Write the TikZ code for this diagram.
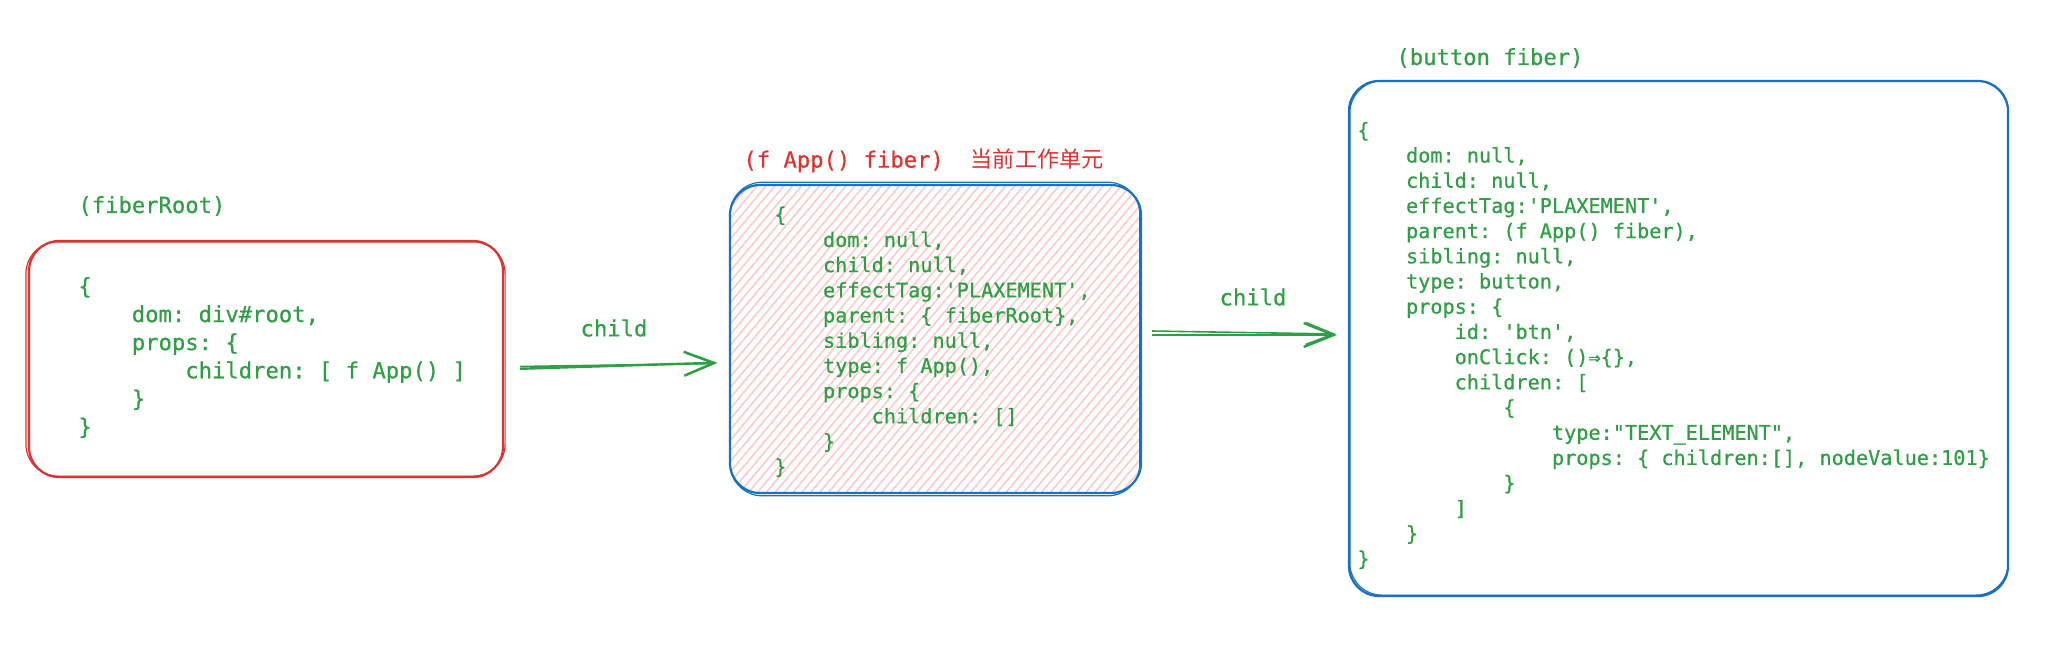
\documentclass[tikz,border=0pt]{standalone}
\usepackage{fontspec}
\setmonofont{DejaVu Sans Mono}[FakeBold=0.6]
\newfontfamily\cjk{Noto Sans CJK SC}
\usetikzlibrary{arrows.meta,patterns.meta}
\definecolor{codegreen}{HTML}{2F9E44}
\definecolor{sketchred}{HTML}{E03131}
\definecolor{sketchblue}{HTML}{1971C2}
\definecolor{hatchpink}{HTML}{FFC9C9}
\newcommand{\tb}{\phantom{0000}}
\tikzset{
  fiberbox/.style={draw, line width=1.1pt, rounded corners=15pt, inner sep=0pt},
  roughline/.style={line width=0.6pt, rounded corners=16pt},
  hatched/.style={pattern={Lines[angle=50,distance=3.4pt,line width=0.8pt]}, pattern color=hatchpink},
  bigcode/.style={text=codegreen, font=\ttfamily\fontsize{11.1}{14.05}\selectfont, align=left, anchor=north west, inner sep=0pt},
  smallcode/.style={bigcode, font=\ttfamily\fontsize{10.1}{12.6}\selectfont},
  title/.style={text=codegreen, font=\ttfamily\fontsize{11.1}{13}\selectfont, anchor=west, inner sep=0pt},
  link/.style={codegreen, line width=1.2pt, -{Straight Barb[length=15pt,width=12pt]}},
  linkrough/.style={codegreen, line width=0.8pt, -{Straight Barb[length=14pt,width=11pt]}}
}

\begin{document}
\begin{tikzpicture}[x=0.5pt, y=-0.5pt]
  \useasboundingbox (0,0) rectangle (2068,644);

  \node [fiberbox, draw=sketchred, minimum width=237pt, minimum height=118pt] (root) at (266, 359) {};
  \node [fiberbox, draw=sketchblue, hatched, minimum width=205.5pt, minimum height=154pt] (app) at (935.5, 339) {};
  \node [fiberbox, draw=sketchblue, minimum width=329.5pt, minimum height=257.5pt] (btn) at (1678.5, 338.5) {};

  \draw [sketchred, roughline] ([shift={(-2,2)}]root.north west) rectangle ([shift={(1,-2)}]root.south east);
  \draw [sketchblue, roughline] ([shift={(1,-2)}]app.north west) rectangle ([shift={(-2,2)}]app.south east);
  \draw [sketchblue, roughline] ([shift={(2,1)}]btn.north west) rectangle ([shift={(-1,-2)}]btn.south east);

  \node [title] (rootlabel) at (78, 206) {(fiberRoot)};
  \node [title, text=sketchred] (applabel) at (743, 160.5) {(f App() fiber)\ \ {\cjk 当前工作单元}};
  \node [title] (btnlabel) at (1396, 58) {(button fiber)};

  \node [bigcode] (roottext) at (78, 276.7) {\{\\
    \tb dom: div\#root,\\
    \tb props: \{\\
    \tb\tb children: [ f App() ]\\
    \tb \}\\
    \}};

  \node [smallcode] (apptext) at (774, 206) {\{\\
    \tb dom: null,\\
    \tb child: null,\\
    \tb effectTag:'PLAXEMENT',\\
    \tb parent: \{ fiberRoot\},\\
    \tb sibling: null,\\
    \tb type: f App(),\\
    \tb props: \{\\
    \tb\tb children: []\\
    \tb \}\\
    \}};

  \node [smallcode] (btntext) at (1357, 121.6) {\{\\
    \tb dom: null,\\
    \tb child: null,\\
    \tb effectTag:'PLAXEMENT',\\
    \tb parent: (f App() fiber),\\
    \tb sibling: null,\\
    \tb type: button,\\
    \tb props: \{\\
    \tb\tb id: 'btn',\\
    \tb\tb onClick: ()⇒\{\},\\
    \tb\tb children: [\\
    \tb\tb\tb \{\\
    \tb\tb\tb\tb type:"TEXT\_ELEMENT",\\
    \tb\tb\tb\tb props: \{ children:[], nodeValue:101\}\\
    \tb\tb\tb \}\\
    \tb\tb ]\\
    \tb \}\\
    \}};

  \draw [link] ([shift={(16,9.75)}]root.east) -- ([shift={(-12,23.7)}]app.west);
  \draw [linkrough] ([shift={(16,7.5)}]root.east) -- ([shift={(-13,24.5)}]app.west);
  \node [title, anchor=center] (childa) at (614, 328) {child};

  \draw [link] ([shift={(10,-4)}]app.east) -- ([shift={(-11,-3.5)}]btn.west);
  \draw [linkrough] ([shift={(10,-8)}]app.east) -- ([shift={(-12,-4.5)}]btn.west);
  \node [title, anchor=center] (childb) at (1253, 297) {child};
\end{tikzpicture}
\end{document}
